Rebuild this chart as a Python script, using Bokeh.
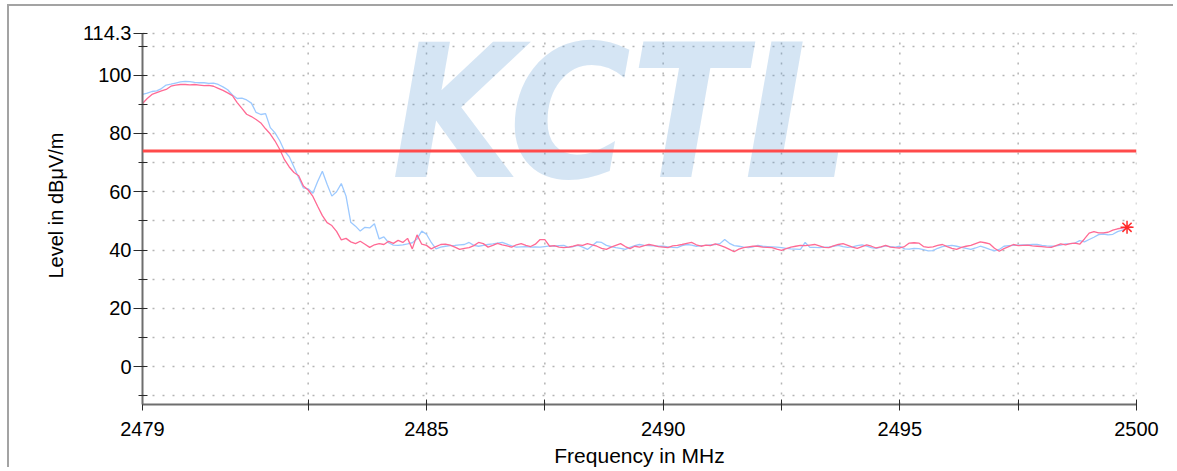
from bokeh.plotting import figure
from bokeh.models import FixedTicker, Span, Label, Range1d
from bokeh.embed import file_html
from bokeh.resources import INLINE

# ---------------- data ----------------
FREQ_START_MHZ = 2479.0
FREQ_STEP_MHZ = 0.1

# red/pink trace, dBuV/m, 2479.0 ... 2499.9 MHz
level_red = [
    90.3, 92.0, 93.4, 94.0, 94.6, 95.1, 96.2, 96.6, 96.8, 96.8,
    96.7, 96.8, 96.6, 96.4, 96.5, 96.2, 95.5, 94.8, 93.9, 93.0,
    90.6, 88.6, 86.6, 85.8, 84.8, 83.6, 81.6, 79.8, 77.4, 74.5,
    71.0, 68.5, 66.6, 65.5, 62.0, 60.6, 58.4, 55.0, 51.8, 49.4,
    48.4, 46.4, 43.5, 44.0, 42.8, 42.2, 43.0, 42.0, 40.9, 41.8,
    42.2, 41.9, 43.0, 42.3, 43.3, 42.6, 44.0, 40.4, 45.2, 42.0,
    41.6, 40.4, 41.2, 41.9, 42.0, 41.7, 41.0, 40.2, 40.6, 40.8,
    41.5, 42.6, 42.2, 41.0, 41.6, 42.3, 41.8, 41.4, 41.0, 41.8,
    42.2, 41.6, 41.2, 42.0, 43.6, 43.6, 41.3, 41.5, 41.0, 40.8,
    41.0, 41.3, 41.8, 41.6, 42.2, 41.8, 41.3, 40.6, 40.2, 41.0,
    41.6, 42.2, 41.2, 40.5, 41.3, 41.0, 41.5, 41.9, 41.6, 41.2,
    41.0, 40.8, 41.4, 41.6, 41.9, 42.3, 42.6, 41.8, 41.3, 41.7,
    41.5, 42.1, 41.6, 41.0, 40.2, 39.4, 40.3, 40.8, 41.1, 41.3,
    41.3, 41.0, 40.9, 40.8, 40.3, 39.9, 40.5, 41.0, 41.3, 41.6,
    41.5, 41.7, 41.9, 41.4, 40.9, 40.8, 41.4, 41.9, 42.2, 41.6,
    41.0, 40.6, 41.2, 41.8, 41.3, 40.7, 41.1, 41.6, 41.0, 40.8,
    40.7, 41.2, 42.4, 42.5, 42.4, 41.2, 40.9, 41.1, 41.6, 41.9,
    41.2, 40.6, 40.2, 40.9, 41.3, 41.6, 42.2, 42.8, 42.5, 42.1,
    40.6, 39.6, 40.5, 41.2, 41.9, 41.5, 41.6, 41.7, 41.4, 41.3,
    41.2, 41.0, 40.9, 41.5, 42.1, 41.8, 42.2, 42.4, 42.0, 43.8,
    45.8, 46.3, 45.9, 45.9, 46.1, 46.8, 47.3, 47.5, 47.8, 47.9,
]

# light blue trace, dBuV/m, 2479.0 ... 2499.9 MHz
level_blue = [
    93.4, 93.8, 94.4, 94.6, 95.4, 96.6, 96.9, 97.3, 97.7, 97.9,
    97.8, 97.5, 97.4, 97.4, 97.2, 97.3, 96.8, 96.0, 95.0, 93.2,
    92.0, 92.1, 91.5, 90.4, 87.2, 86.5, 86.8, 82.0, 80.2, 77.5,
    74.0, 72.0, 68.5, 64.8, 61.3, 61.0, 59.5, 63.5, 67.0, 62.6,
    58.5, 60.0, 62.8, 58.5, 49.5, 48.2, 46.5, 47.8, 47.6, 49.0,
    43.8, 44.5, 42.5, 41.7, 41.6, 41.8, 42.1, 42.5, 43.8, 46.5,
    45.4, 42.6, 40.4, 41.0, 41.3, 41.5, 41.6, 41.8, 41.9, 42.6,
    41.6, 41.3, 41.6, 41.9, 42.1, 42.4, 42.6, 42.0, 41.4, 41.0,
    41.1, 41.2, 41.0, 41.1, 41.0, 41.2, 41.4, 41.3, 41.5, 41.6,
    40.9, 41.2, 41.6, 41.0, 40.2, 41.5, 42.8, 42.6, 41.6, 41.2,
    40.8, 40.6, 40.2, 40.9, 41.5, 41.9, 41.6, 41.5, 41.4, 41.3,
    41.3, 41.1, 40.9, 40.8, 41.5, 41.9, 41.7, 41.3, 41.5, 41.6,
    41.8, 41.9, 42.2, 43.6, 42.3, 41.5, 41.3, 41.0, 40.8, 41.1,
    41.6, 41.3, 41.2, 41.1, 41.0, 40.8, 40.6, 40.4, 40.3, 40.2,
    42.6, 40.9, 40.9, 40.8, 41.0, 41.0, 41.3, 41.6, 41.2, 40.9,
    41.1, 41.5, 41.8, 41.3, 40.8, 40.6, 41.0, 41.4, 41.2, 41.0,
    41.3, 40.4, 40.3, 40.6, 40.5, 40.1, 39.7, 39.8, 40.6, 41.2,
    41.4, 41.6, 41.3, 40.9, 40.6, 40.2, 40.7, 41.3, 40.8, 40.2,
    39.7, 40.2, 41.3, 41.5, 41.6, 41.7, 41.8, 41.8, 41.9, 41.9,
    41.6, 41.4, 41.3, 41.4, 41.7, 42.1, 42.2, 42.4, 43.2, 42.8,
    43.6, 44.4, 45.3, 45.5, 45.2, 45.4, 46.3, 46.8, 47.6, 47.8,
]

freq = [round(FREQ_START_MHZ + FREQ_STEP_MHZ * i, 1) for i in range(len(level_red))]

LIMIT_LEVEL = 74.0
MARKER_FREQ = 2499.8
MARKER_LEVEL = 47.8

X_RANGE = (2479.0, 2500.0)
Y_AXIS_MIN = -13.0
Y_AXIS_MAX = 114.3
Y_VIEW_TOP = 123.56   # headroom above the axis end, so the watermark can rise above it
x_major_ticks = [2479, 2485, 2490, 2495, 2500]
x_minor_ticks = [2482.5, 2487.5, 2492.5, 2497.5]
y_major_ticks = [0, 20, 40, 60, 80, 100, 114.3]
y_minor_ticks = [-10, 10, 30, 50, 70, 90, 110]
y_tick_labels = ["0", "20", "40", "60", "80", "100", "114.3"]

X_TITLE = "Frequency in MHz"
Y_TITLE = "Level in dBμV/m"
WATERMARK = "KCTL"

# ---------------- figure ----------------
FONT = "Liberation Sans"
GRID_COLOR = "#b4b4b4"
GRID_DASH = "2 8"

p = figure(
    width=1166, height=463,
    x_range=Range1d(*X_RANGE), y_range=Range1d(Y_AXIS_MIN, Y_VIEW_TOP),
    output_backend="svg", toolbar_location=None,
    min_border_left=133, min_border_right=39,
    min_border_top=0, min_border_bottom=65,
    outline_line_color=None,
    background_fill_color="white", border_fill_color="white",
    styles={"border-top": "2px solid #a3a3a3", "border-left": "2px solid #a3a3a3",
            "margin-top": "4px", "margin-left": "7px"},
)

# axes
p.xaxis.ticker = FixedTicker(ticks=x_major_ticks, minor_ticks=x_minor_ticks)
p.yaxis.ticker = FixedTicker(ticks=y_major_ticks, minor_ticks=y_minor_ticks)
p.yaxis.bounds = (Y_AXIS_MIN, Y_AXIS_MAX)
p.yaxis.major_label_overrides = {v: s for v, s in zip(y_major_ticks, y_tick_labels)}
p.xaxis.axis_label = X_TITLE
p.yaxis.axis_label = Y_TITLE

for ax in (p.xaxis[0], p.yaxis[0]):
    ax.axis_line_color = "#6e6e6e"
    ax.axis_line_width = 2
    ax.major_tick_line_color = "#2a2a2a"
    ax.minor_tick_line_color = "#2a2a2a"
    ax.major_tick_line_width = 1
    ax.minor_tick_line_width = 1
    ax.major_label_text_font = FONT
    ax.major_label_text_font_size = "20px"
    ax.major_label_text_color = "#000000"
    ax.axis_label_text_font = FONT
    ax.axis_label_text_font_style = "normal"
    ax.axis_label_text_color = "#000000"

p.xaxis.axis_label_text_font_size = "21px"
p.yaxis.axis_label_text_font_size = "20px"

p.xaxis.major_tick_in = 5
p.xaxis.major_tick_out = 6
p.xaxis.minor_tick_in = 5
p.xaxis.minor_tick_out = 6
p.xaxis.major_label_standoff = 11
p.xaxis.axis_label_standoff = 5

p.yaxis.major_tick_in = 5
p.yaxis.major_tick_out = 9
p.yaxis.minor_tick_in = 5
p.yaxis.minor_tick_out = 4
p.yaxis.major_label_standoff = 2
p.yaxis.axis_label_standoff = 13

# horizontal dotted grid (major + minor ticks)
g = p.ygrid[0]
g.grid_line_color = GRID_COLOR
g.grid_line_dash = GRID_DASH
g.grid_line_width = 1.5
g.minor_grid_line_color = GRID_COLOR
g.minor_grid_line_dash = GRID_DASH
g.minor_grid_line_width = 1.5

# vertical dotted grid, limited to the axis span
p.xgrid.grid_line_color = None
x_grid = sorted(x_major_ticks[1:] + x_minor_ticks)
p.segment(x0=x_grid, y0=[Y_AXIS_MIN] * len(x_grid),
          x1=x_grid, y1=[Y_AXIS_MAX] * len(x_grid),
          line_color=GRID_COLOR, line_dash=GRID_DASH, line_width=1.5,
          level="underlay")

# watermark (kept fully inside the drawing area)
p.add_layout(Label(
    x=2484.26, y=86.85, text=WATERMARK,
    text_font="'DejaVu Sans Condensed', 'Liberation Sans', sans-serif",
    text_font_style="bold italic",
    text_font_size="185px", text_color="#5b9bd5", text_alpha=0.26,
    text_align="left", text_baseline="alphabetic",
))

# traces
p.line(freq, level_blue, line_color="#9cc9ff", line_width=1.3)
p.line(freq, level_red, line_color="#ff6a94", line_width=1.3)

# limit line
p.add_layout(Span(location=LIMIT_LEVEL, dimension="width",
                  line_color="#ff4a4a", line_width=3))

# marker
p.scatter([MARKER_FREQ], [MARKER_LEVEL], marker="asterisk", size=13,
          line_color="#ff2a2a", line_width=1.5)

open("out.html", "w").write(file_html(p, INLINE))
